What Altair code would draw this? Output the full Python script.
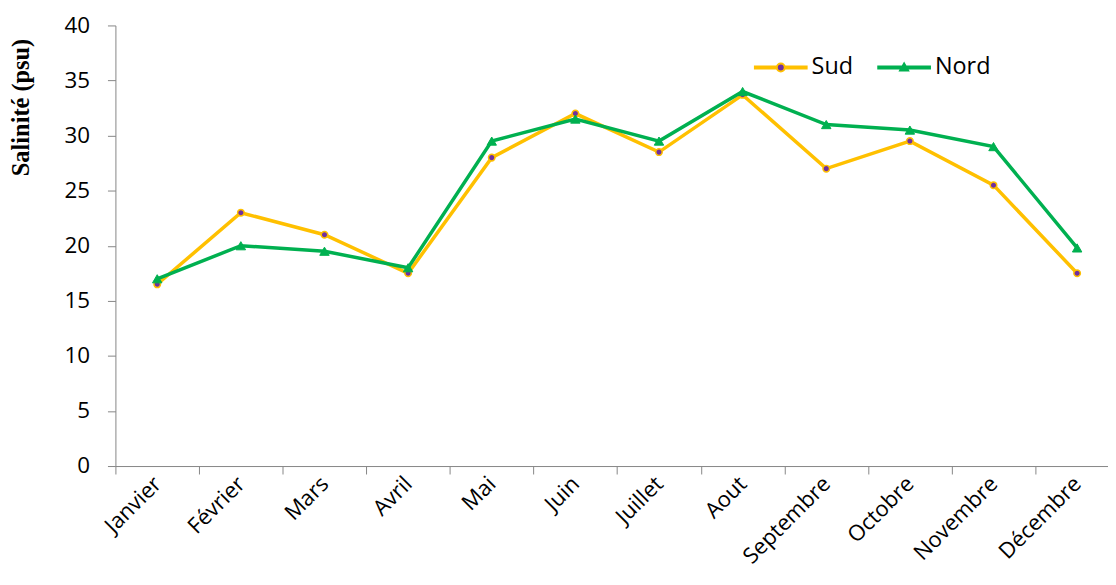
import altair as alt
import pandas as pd

months = ["Janvier", "Février", "Mars", "Avril", "Mai", "Juin", "Juillet",
          "Aout", "Septembre", "Octobre", "Novembre", "Décembre"]
sud = [16.5, 23.0, 21.0, 17.5, 28.0, 32.0, 28.5, 33.7, 27.0, 29.5, 25.5, 17.5]
nord = [17.0, 20.0, 19.5, 18.0, 29.5, 31.5, 29.5, 34.0, 31.0, 30.5, 29.0, 19.8]
series = ["Sud", "Nord"]
colors = ["#FFC000", "#00B050"]
dot_color = "#7030A0"

rows = []
for m, s, n in zip(months, sud, nord):
    rows.append({"Mois": m, "Série": "Sud", "Salinité": s})
    rows.append({"Mois": m, "Série": "Nord", "Salinité": n})
df = pd.DataFrame(rows)

FONT = "Open Sans"
PLOT_W = 998
PLOT_H = 443
X_RANGE = 1009

x_enc = alt.X("Mois:N", sort=months,
              scale=alt.Scale(type="band", paddingInner=0, paddingOuter=0,
                              range=[0, X_RANGE]),
              axis=alt.Axis(title=None, labelAngle=-45, labelAlign="right",
                            labelBaseline="middle", labelPadding=6,
                            tickBand="extent", tickSize=8, tickColor="#868686",
                            domainColor="#868686", labelFont=FONT, labelFontSize=22,
                            labelColor="#000000", grid=False, labelOverlap=False))
y_enc = alt.Y("Salinité:Q", scale=alt.Scale(domain=[0, 40], nice=False, zero=True),
              axis=alt.Axis(title="Salinité (psu)", values=list(range(0, 41, 5)),
                            tickSize=8, tickColor="#868686", domainColor="#868686",
                            labelFont=FONT, labelFontSize=22.5, labelColor="#000000",
                            labelPadding=18, grid=False,
                            titleFont="Liberation Serif", titleFontSize=24.5,
                            titleFontWeight="bold", titleColor="#000000",
                            titleAngle=-90, titleX=-94, titleY=82,
                            titleAlign="center", titleBaseline="middle"))

# legend symbol paths in the [-1, 1] unit box (27 px per unit at symbolSize 2916)
r = 0.148
d = 0.037
lines = f"M-1,-{d}H-{r}M{r},-{d}H1M-1,{d}H-{r}M{r},{d}H1"
SUD_PATH = lines + f"M-{r},0A{r},{r} 0 1,0 {r},0A{r},{r} 0 1,0 -{r},0Z"
NORD_PATH = f"M-1,-{d}H1M-1,{d}H1M0,-0.15L0.148,0.11L-0.148,0.11Z"

legend = alt.Legend(title=None, orient="none", legendX=641, legendY=14,
                    direction="horizontal", symbolSize=2916, symbolStrokeWidth=2,
                    symbolOpacity=1,
                    labelFont=FONT, labelFontSize=23.5, labelColor="#000000",
                    labelOffset=3, columnPadding=20, padding=0)

base = alt.Chart(df).encode(x=x_enc, y=y_enc)

sud_f = alt.datum["Série"] == "Sud"
nord_f = alt.datum["Série"] == "Nord"

sud_line = base.transform_filter(sud_f).mark_line(strokeWidth=3.5, color=colors[0])
sud_pts = base.transform_filter(sud_f).mark_point(
    shape="circle", filled=True, fill=dot_color, stroke=colors[0], strokeWidth=1.5,
    size=43, opacity=1)
nord_line = base.transform_filter(nord_f).mark_line(strokeWidth=3.5, color=colors[1])
nord_pts = base.transform_filter(nord_f).mark_point(
    shape="triangle-up", filled=True, fill=colors[1], stroke=colors[1], strokeWidth=1,
    size=90, opacity=1)

legend_layer = base.mark_point(opacity=0, strokeWidth=2).encode(
    stroke=alt.Stroke("Série:N", scale=alt.Scale(domain=series, range=colors), legend=legend),
    fill=alt.Fill("Série:N", scale=alt.Scale(domain=series, range=[dot_color, colors[1]]), legend=legend),
    shape=alt.Shape("Série:N", scale=alt.Scale(domain=series, range=[SUD_PATH, NORD_PATH]), legend=legend),
)

chart = alt.layer(sud_line, sud_pts, nord_line, nord_pts, legend_layer).properties(
    width=PLOT_W, height=PLOT_H,
    autosize=alt.AutoSizeParams(type="none"),
    padding={"left": 108, "top": 16, "right": 0, "bottom": 104},
    background="#FFFFFF",
).configure_view(stroke=None)

chart.save("out.html", embed_options={"renderer": "svg", "actions": False})
